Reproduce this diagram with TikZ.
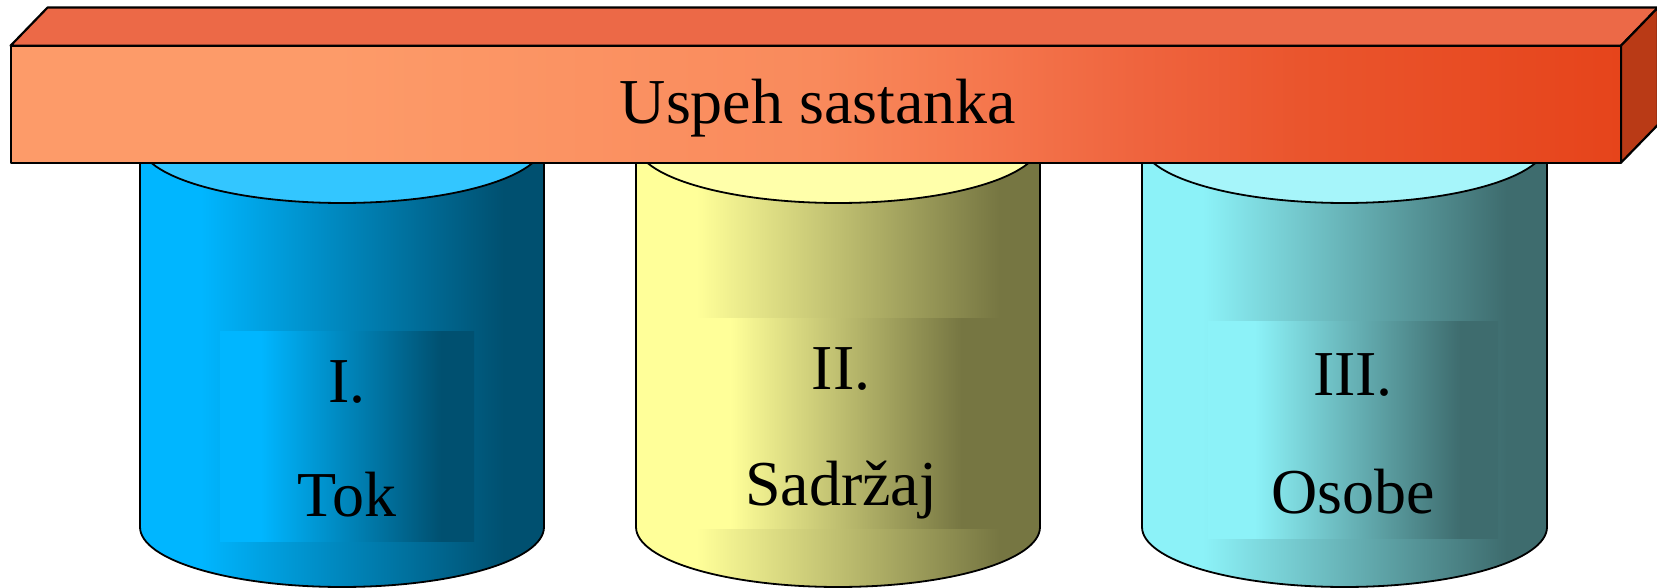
\documentclass[tikz,border=0pt]{standalone}
\usepackage{fontspec}
\setmainfont{Liberation Serif}

% palette
\definecolor{blueL}{RGB}{0,182,255}
\definecolor{blueD}{RGB}{0,80,112}
\definecolor{blueTop}{RGB}{51,198,255}
\definecolor{yelL}{RGB}{255,255,153}
\definecolor{yelD}{RGB}{118,118,66}
\definecolor{yelTop}{RGB}{255,255,170}
\definecolor{cyaL}{RGB}{140,242,248}
\definecolor{cyaD}{RGB}{62,108,110}
\definecolor{cyaTop}{RGB}{166,245,250}
\definecolor{barA}{RGB}{253,155,105}
\definecolor{barB}{RGB}{249,138,92}
\definecolor{barC}{RGB}{245,120,78}
\definecolor{barD}{RGB}{239,100,62}
\definecolor{barE}{RGB}{234,85,45}
\definecolor{barF}{RGB}{230,68,27}
\definecolor{barTop}{RGB}{236,105,71}
\definecolor{barSide}{RGB}{185,58,22}

% a shaded path spans 25bp..75bp of the 100bp shading
% drum sides: light on the left, dark on the right
\pgfdeclarehorizontalshading{sideblue}{100bp}{color(0bp)=(blueL); color(32.5bp)=(blueL); color(70bp)=(blueD); color(100bp)=(blueD)}
\pgfdeclarehorizontalshading{sideyel}{100bp}{color(0bp)=(yelL); color(32.5bp)=(yelL); color(70bp)=(yelD); color(100bp)=(yelD)}
\pgfdeclarehorizontalshading{sidecya}{100bp}{color(0bp)=(cyaL); color(32.5bp)=(cyaL); color(70bp)=(cyaD); color(100bp)=(cyaD)}
% label panels on the drums
\pgfdeclarehorizontalshading{panelblue}{100bp}{color(0bp)=(blueL); color(33bp)=(blueL); color(68.5bp)=(blueD); color(100bp)=(blueD)}
\pgfdeclarehorizontalshading{panelyel}{100bp}{color(0bp)=(yelL); color(33bp)=(yelL); color(68.5bp)=(yelD); color(100bp)=(yelD)}
\pgfdeclarehorizontalshading{panelcya}{100bp}{color(0bp)=(cyaL); color(33bp)=(cyaL); color(68.5bp)=(cyaD); color(100bp)=(cyaD)}
% front face of the beam
\pgfdeclarehorizontalshading{barfront}{100bp}{color(0bp)=(barA); color(35bp)=(barA); color(50bp)=(barB); color(55bp)=(barC); color(60bp)=(barD); color(65bp)=(barE); color(75bp)=(barF); color(100bp)=(barF)}

\begin{document}
\begin{tikzpicture}[x=1pt,y=1pt,
  outline/.style={draw=black, line width=1.8pt, line join=round},
  barline/.style={draw=black, line width=2.2pt, line join=round},
  lbl/.style={font=\fontsize{64}{64}\selectfont, text=black, inner sep=0pt, anchor=base}]
\useasboundingbox (0,0) rectangle (1657,588);

% drum I
\shade[shading=sideblue] (140,445) -- (140,61) arc[start angle=180,end angle=360,x radius=202,y radius=60] -- (544,445) -- cycle;
\draw[outline] (140,445) -- (140,61) arc[start angle=180,end angle=360,x radius=202,y radius=60] -- (544,445);
\filldraw[outline, fill=blueTop] (342,445) ellipse[x radius=202, y radius=60];
\shade[shading=panelblue] (220,46.5) rectangle (474,256.5);
\node[lbl] (n1) at (347,185.3) {I.};
\node[lbl] (t1) at (347,71) {Tok};

% drum II
\shade[shading=sideyel] (636,445) -- (636,61) arc[start angle=180,end angle=360,x radius=202,y radius=60] -- (1040,445) -- cycle;
\draw[outline] (636,445) -- (636,61) arc[start angle=180,end angle=360,x radius=202,y radius=60] -- (1040,445);
\filldraw[outline, fill=yelTop] (838,445) ellipse[x radius=202, y radius=60];
\shade[shading=panelyel] (678,59) rectangle (1004,269);
\node[lbl] (n2) at (841,198) {II.};
\node[lbl] (t2) at (841,82.3) {Sadržaj};

% drum III
\shade[shading=sidecya] (1142,445) -- (1142,61) arc[start angle=180,end angle=360,x radius=202.5,y radius=60] -- (1547,445) -- cycle;
\draw[outline] (1142,445) -- (1142,61) arc[start angle=180,end angle=360,x radius=202.5,y radius=60] -- (1547,445);
\filldraw[outline, fill=cyaTop] (1344.5,445) ellipse[x radius=202.5, y radius=60];
\shade[shading=panelcya] (1208,49.5) rectangle (1498,266);
\node[lbl] (n3) at (1353,192.2) {III.};
\node[lbl] (t3) at (1353,74) {Osobe};

% beam resting on the drums
\filldraw[barline, fill=barTop] (10.6,542.3) -- (47.6,580.5) -- (1658,580.5) -- (1621,542.3) -- cycle;
\filldraw[barline, fill=barSide] (1621,542.3) -- (1658,580.5) -- (1658,463.3) -- (1621,425.3) -- cycle;
\shade[shading=barfront] (10.6,425.3) rectangle (1621,542.3);
\draw[barline] (10.6,425.3) rectangle (1621,542.3);
\node[lbl] (title) at (818,464) {Uspeh sastanka};
\end{tikzpicture}
\end{document}
